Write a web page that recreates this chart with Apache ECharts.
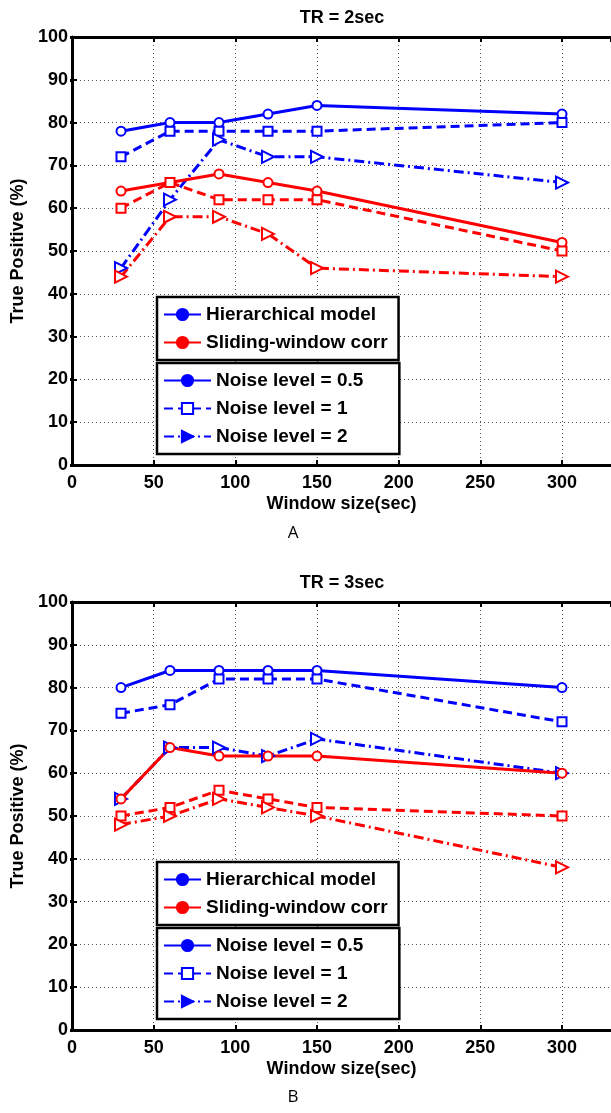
<html lang="en">
<head>
    <meta charset="UTF-8">
    <title>True Positive vs Window size</title>
    <script type="text/javascript" src="https://cdn.jsdelivr.net/npm/echarts@6/dist/echarts.min.js"></script>
</head>
<style>
    html, body { margin: 0; padding: 0; background: #fff; }
    #container { width: 611px; height: 1113px; }
</style>
<body>
<div id="container"></div>
<script>

    // window sizes (sec) on the x axis
    var windowSizes = [30, 60, 90, 120, 150, 300];

    // TR = 2sec
    var hier2_n05 = [78, 80, 80, 82, 84, 82];
    var hier2_n1  = [72, 78, 78, 78, 78, 80];
    var hier2_n2  = [46, 62, 76, 72, 72, 66];
    var swc2_n05  = [64, 66, 68, 66, 64, 52];
    var swc2_n1   = [60, 66, 62, 62, 62, 50];
    var swc2_n2   = [44, 58, 58, 54, 46, 44];

    // TR = 3sec
    var hier3_n05 = [80, 84, 84, 84, 84, 80];
    var hier3_n1  = [74, 76, 82, 82, 82, 72];
    var hier3_n2  = [54, 66, 66, 64, 68, 60];
    var swc3_n05  = [54, 66, 64, 64, 64, 60];
    var swc3_n1   = [50, 52, 56, 54, 52, 50];
    var swc3_n2   = [48, 50, 54, 52, 50, 38];

    var panelTitles = ['TR = 2sec', 'TR = 3sec'];
    var panelLetters = ['A', 'B'];
    var methodNames = ['Hierarchical model', 'Sliding-window corr'];
    var noiseNames = ['Noise level = 0.5', 'Noise level = 1', 'Noise level = 2'];

    var FONT = '"Liberation Sans", Arial, Helvetica, sans-serif';
    var BLUE = '#0000ff';
    var RED = '#ff0000';
    var DASH = [9, 5];
    var DASHDOT = [10, 4, 2, 4];

    // noise level -> line type / marker
    var noiseStyle = [
        {type: 'solid', symbol: 'emptyCircle', legendSymbol: 'circle', size: 9, rotate: 0},
        {type: DASH, symbol: 'emptyRect', legendSymbol: 'emptyRect', size: 9, rotate: 0},
        {type: DASHDOT, symbol: 'emptyTriangle', legendSymbol: 'triangle', size: 12, rotate: -90}
    ];

    function toPoints(values)
    {
        return windowSizes.map(function (x, i) { return [x, values[i]]; });
    }

    function lineSeries(name, values, color, noise, panel)
    {
        var st = noiseStyle[noise];
        return {
            name: name,
            type: 'line',
            xAxisIndex: panel * 2,
            yAxisIndex: panel * 2,
            data: values ? toPoints(values) : [],
            symbol: values ? st.symbol : st.legendSymbol,
            symbolSize: st.size,
            symbolRotate: st.rotate,
            showAllSymbol: true,
            animation: false,
            lineStyle: {color: color, width: 3, type: st.type},
            itemStyle: {color: color, borderColor: color, borderWidth: 3}
        };
    }

    function grid(top)
    {
        return {left: 72, top: top, width: 541, height: 428, show: false};
    }

    function xAxes(gridIndex)
    {
        return [
            {
                type: 'value', gridIndex: gridIndex, position: 'bottom',
                min: 0, max: 330, interval: 50,
                name: 'Window size(sec)', nameLocation: 'middle', nameGap: 30,
                nameTextStyle: {color: '#000', fontFamily: FONT, fontWeight: 'bold', fontSize: 18},
                axisLine: {onZero: false, lineStyle: {color: '#000', width: 3}},
                axisTick: {inside: true, length: 5, lineStyle: {color: '#000', width: 2}},
                axisLabel: {color: '#000', fontFamily: FONT, fontWeight: 'bold', fontSize: 18, margin: 9, showMaxLabel: false},
                splitLine: {show: true, lineStyle: {color: '#555', width: 1, type: [1, 3]}}
            },
            {
                type: 'value', gridIndex: gridIndex, position: 'top',
                min: 0, max: 330, interval: 50,
                axisLine: {onZero: false, lineStyle: {color: '#000', width: 3}},
                axisTick: {inside: true, length: 5, lineStyle: {color: '#000', width: 2}},
                axisLabel: {show: false},
                splitLine: {show: false}
            }
        ];
    }

    function yAxes(gridIndex)
    {
        return [
            {
                type: 'value', gridIndex: gridIndex, position: 'left',
                min: 0, max: 100, interval: 10,
                name: 'True Positive (%)', nameLocation: 'middle', nameGap: 37,
                nameTextStyle: {color: '#000', fontFamily: FONT, fontWeight: 'bold', fontSize: 18},
                axisLine: {onZero: false, lineStyle: {color: '#000', width: 3}},
                axisTick: {inside: true, length: 5, lineStyle: {color: '#000', width: 2}},
                axisLabel: {color: '#000', fontFamily: FONT, fontWeight: 'bold', fontSize: 18, margin: 4},
                splitLine: {show: true, lineStyle: {color: '#555', width: 1, type: [1, 3]}}
            },
            {
                // right side of the box is cut off by the frame; only its ticks show
                type: 'value', gridIndex: gridIndex, position: 'right', offset: -2,
                min: 0, max: 100, interval: 10,
                axisLine: {show: false},
                axisTick: {show: true, inside: true, length: 4, lineStyle: {color: '#000', width: 3}},
                axisLabel: {show: false},
                splitLine: {show: false}
            }
        ];
    }

    function legendBox(names, top, itemWidth, padding)
    {
        return {
            data: names,
            orient: 'vertical',
            left: 157,
            top: top,
            selectedMode: false,
            itemWidth: itemWidth,
            itemHeight: 14,
            itemGap: 9,
            padding: padding,
            backgroundColor: '#fff',
            borderColor: '#000',
            borderWidth: 2.5,
            borderRadius: 0,
            textStyle: {color: '#000', fontFamily: FONT, fontWeight: 'bold', fontSize: 19}
        };
    }

    var chart = echarts.init(document.getElementById('container'));

    var series = [
        lineSeries('tr2 hier 0.5', hier2_n05, BLUE, 0, 0),
        lineSeries('tr2 hier 1', hier2_n1, BLUE, 1, 0),
        lineSeries('tr2 hier 2', hier2_n2, BLUE, 2, 0),
        lineSeries('tr2 swc 0.5', swc2_n05, RED, 0, 0),
        lineSeries('tr2 swc 1', swc2_n1, RED, 1, 0),
        lineSeries('tr2 swc 2', swc2_n2, RED, 2, 0),
        lineSeries('tr3 hier 0.5', hier3_n05, BLUE, 0, 1),
        lineSeries('tr3 hier 1', hier3_n1, BLUE, 1, 1),
        lineSeries('tr3 hier 2', hier3_n2, BLUE, 2, 1),
        lineSeries('tr3 swc 0.5', swc3_n05, RED, 0, 1),
        lineSeries('tr3 swc 1', swc3_n1, RED, 1, 1),
        lineSeries('tr3 swc 2', swc3_n2, RED, 2, 1),
        // empty series that only feed the legends
        lineSeries(methodNames[0], null, BLUE, 0, 0),
        lineSeries(methodNames[1], null, RED, 0, 0),
        lineSeries(noiseNames[0], null, BLUE, 0, 0),
        lineSeries(noiseNames[1], null, BLUE, 1, 0),
        lineSeries(noiseNames[2], null, BLUE, 2, 0)
    ];

    var textStyle = {fill: '#000', font: 'bold 18px ' + FONT, textAlign: 'center', textVerticalAlign: 'middle'};
    var letterStyle = {fill: '#000', font: '17px "Open Sans", sans-serif', textAlign: 'center', textVerticalAlign: 'middle'};

    var option = {
        backgroundColor: '#fff',
        animation: false,
        grid: [grid(37), grid(602)],
        xAxis: xAxes(0).concat(xAxes(1)),
        yAxis: yAxes(0).concat(yAxes(1)),
        legend: [
            legendBox(methodNames, 297, 37, [8, 11, 8, 6]),
            legendBox(noiseNames, 363, 47, [8, 36, 8, 6]),
            legendBox(methodNames, 862, 37, [8, 11, 8, 6]),
            legendBox(noiseNames, 928, 47, [8, 36, 8, 6])
        ],
        graphic: [
            {type: 'text', x: 342, y: 18, style: Object.assign({text: panelTitles[0]}, textStyle)},
            {type: 'text', x: 342, y: 583, style: Object.assign({text: panelTitles[1]}, textStyle)},
            {type: 'text', x: 293, y: 533, style: Object.assign({text: panelLetters[0]}, letterStyle)},
            {type: 'text', x: 293, y: 1097, style: Object.assign({text: panelLetters[1]}, letterStyle)}
        ],
        series: series
    };

    chart.setOption(option);
</script>

</body>
</html>
